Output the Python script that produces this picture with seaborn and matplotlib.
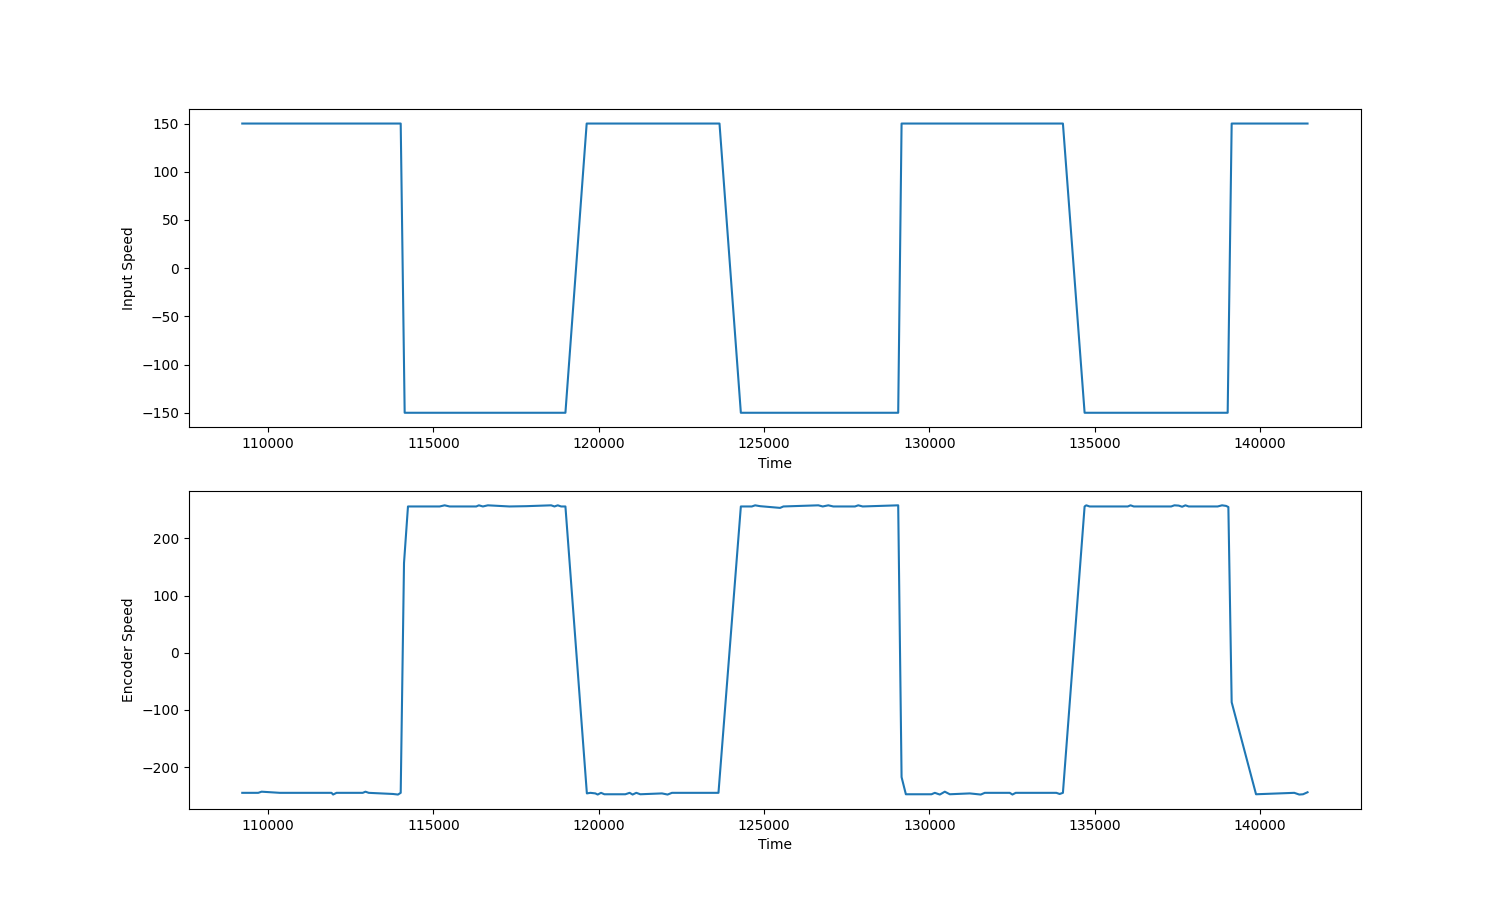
import matplotlib
matplotlib.use("Agg")
import matplotlib.pyplot as plt
import seaborn as sns
import pandas as pd

# Input speed command (time in ms)
input_time = [109215, 114008, 114128, 118991, 119634, 123652, 124298, 129058,
              129160, 134041, 134697, 139025, 139146, 141441]
input_speed = [150, 150, -150, -150, 150, 150, -150, -150,
               150, 150, -150, -150, 150, 150]

# Measured encoder speed
encoder_time = [109215, 109698, 109800, 110353, 111915, 111963, 112066, 112860,
                112942, 113041, 113775, 113926, 114008, 114108, 114228, 115186,
                115337, 115488, 116294, 116373, 116494, 116645, 117300, 117804,
                118559, 118659, 118759, 118861, 118991, 119640, 119746, 119897,
                119967, 120069, 120169, 120803, 120933, 121024, 121135, 121256,
                121912, 122081, 122214, 123621, 124298, 124630, 124730, 124881,
                125485, 125585, 126642, 126775, 126944, 127095, 127750, 127850,
                127983, 129058, 129160, 129290, 130066, 130166, 130317, 130468,
                130619, 131223, 131474, 131556, 131677, 132432, 132514, 132613,
                133842, 133942, 134041, 134697, 134748, 134848, 136004, 136086,
                136185, 137315, 137414, 137544, 137647, 137747, 137846, 138722,
                138855, 138976, 139046, 139146, 139883, 141040, 141191, 141305,
                141441]
encoder_speed = [-245, -245, -243, -245, -245, -248, -245, -245,
                 -243, -245, -247, -248, -245, 157, 256, 256,
                 258, 256, 256, 258, 256, 258, 256, 256.5,
                 258, 256, 258, 256, 256, -246, -245, -246,
                 -248, -245, -247.5, -247.5, -245, -248, -245, -247.5,
                 -246, -248, -245, -245, 256, 256, 258, 256.5,
                 253.5, 256, 258, 256, 258, 256, 256, 258,
                 256, 258, -217.5, -247.5, -247.5, -245, -248, -243,
                 -247.5, -246, -247.5, -248, -245, -245, -248, -245,
                 -245, -247, -245, 256, 258, 256, 256, 258,
                 256, 256, 258, 257.5, 255.5, 258, 256, 256,
                 258, 257, 255, -86.5, -247.5, -245, -248, -247.5,
                 -244]

df_in = pd.DataFrame({"Time": input_time, "Input Speed": input_speed})
df_enc = pd.DataFrame({"Time": encoder_time, "Encoder Speed": encoder_speed})

fig, axes = plt.subplots(2, 1, figsize=(15.12, 9.09), dpi=100)
sns.lineplot(data=df_in, x="Time", y="Input Speed", ax=axes[0],
             estimator=None, sort=False, color="#1f77b4", linewidth=1.5)
sns.lineplot(data=df_enc, x="Time", y="Encoder Speed", ax=axes[1],
             estimator=None, sort=False, color="#1f77b4", linewidth=1.5)

fig.savefig("out.png", dpi=100)
